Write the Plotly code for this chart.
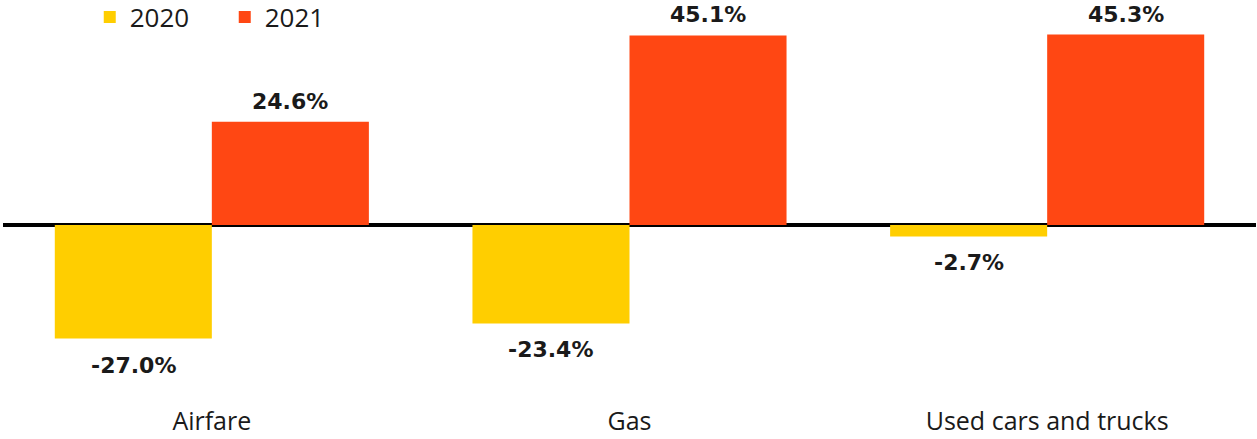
import plotly.graph_objects as go

categories = ["Airfare", "Gas", "Used cars and trucks"]
values_2020 = [-27.0, -23.4, -2.7]
values_2021 = [24.6, 45.1, 45.3]
series_names = ["2020", "2021"]
colors = ["#FFCE00", "#FF4713"]

FONT = "Open Sans"
LABEL_FONT = "DejaVu Sans"
TEXT = "#1a1a1a"
BARGAP = 0.248

fig = go.Figure()
for name, vals, col in zip(series_names, [values_2020, values_2021], colors):
    fig.add_trace(go.Bar(
        x=categories, y=vals, name=name,
        marker=dict(color=col, line=dict(width=0)),
    ))

# value labels just beyond the end of each bar (bar centres sit at +/- a quarter of the group width)
half = (1 - BARGAP) / 4
annotations = []
for offset, vals in zip([-half, half], [values_2020, values_2021]):
    for i, v in enumerate(vals):
        annotations.append(dict(
            x=i + offset, y=v, xref="x", yref="y",
            text=f"<b>{v:.1f}%</b>", showarrow=False,
            yanchor="bottom" if v >= 0 else "top",
            yshift=6 if v >= 0 else -12,
            font=dict(family=LABEL_FONT, size=22, color=TEXT),
        ))

fig.update_layout(
    width=1257, height=439,
    margin=dict(l=3, r=1, t=30, b=29, autoexpand=False),
    paper_bgcolor="white", plot_bgcolor="white",
    barmode="group", bargap=BARGAP, bargroupgap=0,
    font=dict(family=FONT, size=26, color=TEXT),
    showlegend=True,
    legend=dict(orientation="h", x=0.0714, y=0.961, xref="container", yref="container",
                xanchor="left", yanchor="middle",
                font=dict(family=FONT, size=26, color=TEXT),
                entrywidth=90, entrywidthmode="pixels",
                itemwidth=30, tracegroupgap=0, bgcolor="rgba(0,0,0,0)"),
    annotations=annotations,
)
fig.update_xaxes(showgrid=False, showline=False, ticks="", automargin=False,
                 ticklabelstandoff=-6,
                 tickfont=dict(family=FONT, size=25, color=TEXT))
fig.update_yaxes(range=[-44.0, 46.4], showgrid=False, showticklabels=False, automargin=False,
                 zeroline=True, zerolinecolor="black", zerolinewidth=4)

fig.write_html("out.html")
